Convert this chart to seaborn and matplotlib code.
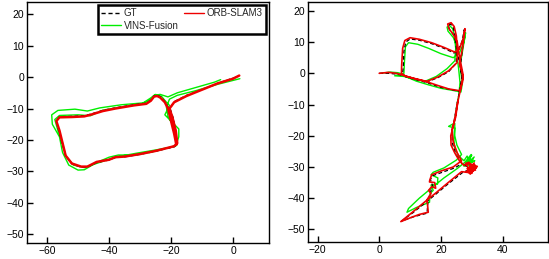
import pandas as pd
import seaborn as sns
import matplotlib.pyplot as plt

# ---- left sequence: trajectories (x, y in metres) ----
gt_l_x = [1, 0, -5, -10, -15, -19, -20.3, -19.3, -18.5, -18, -19, -25, -30, -35, -38, -40, -44, -47, -49, -52,
          -54, -55.2, -56.2, -57, -56, -52, -48, -46, -42, -38, -32, -28, -26.5, -25.5, -24.5, -23.3, -21.8, -20.8]
gt_l_y = [0, -0.3, -2, -4, -5.8, -7.8, -10, -13, -17, -21.3, -22.2, -23.6, -24.6, -25.4, -25.6, -26.4, -27.2, -28.6,
          -28.7, -27.6, -25, -21, -17, -14, -12.6, -12.5, -12.3, -11.8, -10.6, -9.8, -8.8, -8.3, -7.3, -6, -5.8,
          -6.3, -8, -10]

orb_l_x = [2, 0, -5, -10, -15, -19, -20.5, -19.5, -18.5, -18, -19, -25, -30, -35, -38, -40, -44, -47, -49, -52,
           -54, -55, -56, -57, -56, -52, -48, -46, -42, -38, -32, -28, -26.5, -25.5, -24.5, -23.5, -22, -21, -20,
           -19, -18.3]
orb_l_y = [0.5, -0.5, -2, -4, -6, -8, -10, -13, -17, -21, -22, -23.5, -24.5, -25.3, -25.5, -26.3, -27, -28.5,
           -28.5, -27.5, -25, -21, -17, -14, -12.8, -12.7, -12.5, -12, -10.8, -10, -9, -8.5, -7.5, -6.2, -6, -6.5,
           -8, -10, -14, -18, -21.5]

vins_l_x = [2.2, -5, -12, -18, -20.5, -21.5, -21, -19.5, -18.5, -18, -20, -26, -32, -37, -40, -44, -48, -50, -53,
            -55, -56, -58.3, -58.5, -56.5, -51, -47, -43, -36, -29, -26.5, -25, -23, -21.5, -20.5, -22, -20,
            -17.5, -17.5, -18.5, -25, -31, -37, -41, -45, -48, -51.5, -54, -55, -56.5, -57.5, -56, -50, -46, -42,
            -36, -30, -27, -25.5, -23.5, -21, -18, -12, -6, -4]
vins_l_y = [-0.5, -2.3, -4.3, -5.8, -7, -9.5, -12.5, -15, -18, -21.5, -22.3, -23.8, -24.8, -24.8, -25.5, -27.2,
            -29.5, -29.6, -28, -24, -19, -15, -12, -10.6, -10.2, -10.8, -9.8, -8.8, -8.2, -6.6, -5.5, -6.2, -8,
            -9, -12, -14, -16.5, -19, -22, -23.2, -24.2, -25.3, -26.5, -27.8, -28.8, -28, -25, -21, -17, -13.5,
            -12.2, -12, -12.3, -10.5, -9.5, -8.7, -7.5, -5.8, -5.5, -6.3, -5, -3.3, -1.6, -0.8]

# ---- right sequence ----
gt_r_x = [0, 3, 6, 11, 15.5, 20, 26, 27, 26.3, 27, 27.6, 26.8, 25.5, 24.3, 21, 17, 13, 10, 8.6, 8, 7.8, 7.5, 12,
          15.4, 19, 22.5, 25, 25, 24.6, 24, 23.2, 22.5, 22.8, 24.2, 25, 25.5, 26.2, 26.8, 26, 25.2, 24.5, 23.8,
          23.6, 24.8, 26.5, 28.5, 30, 27, 22, 18.5, 15, 11, 7.3, 11, 15.5, 15.8, 16.5, 17.3, 16.6, 17.3, 21, 24.5,
          27]
gt_r_y = [0, 0, -0.3, -1.8, -3, -4.5, -5.8, -2, 2, 8, 14, 10, 7.5, 6.5, 8, 9.5, 10.6, 11, 10, 7, 2, -0.5, -1.9,
          -2.8, -1.4, 0.5, 3.3, 8, 12, 14.7, 15.8, 15.4, 14, 12.2, 9.5, 6, 2.5, -1, -6, -10, -14, -18, -22, -25.8,
          -28.5, -30, -30.5, -31.8, -35.7, -38.6, -41.4, -44.6, -47.3, -46, -44.8, -41, -38.5, -36, -34, -32.8,
          -31.5, -30.3, -28.8]

orb_r_x = [0, 3, 5.5, 7, 11, 15.4, 19, 22.5, 26.2, 27.2, 26.8, 26, 27, 27.8, 27.2, 26, 24.5, 21, 17, 13, 10, 8.3,
           7.6, 7.3, 7.2, 8.5, 12, 15.4, 19, 22.5, 25.3, 25.3, 25, 24.3, 23.3, 22.2, 22.6, 24, 25.3, 25.8, 26.5,
           27.2, 26.3, 25.5, 24.8, 24, 23.2, 23.3, 24.5, 26, 27.5, 29, 30.5, 29.5, 31.5, 29, 31, 28.5, 30, 28,
           31.8, 29.5, 30.8, 28.3, 31.2, 29.2, 30, 26.7,
           22, 18.5, 15, 11, 7, 10, 13, 15.9, 15.5, 16.8, 16, 17, 18.3, 18, 16.3, 16.4, 17, 20, 24, 26.7, 25.3,
           24, 23.6, 24.8, 25.5]
orb_r_y = [0, 0.3, 0, -0.4, -1.6, -2.7, -3.9, -5, -5.6, -2, 0.5, 3, 8, 14.3, 11, 7.8, 6.8, 8.3, 9.8, 10.9, 11.4,
           10.5, 8, 3, 0, -0.9, -1.8, -2.6, -1.2, 0.8, 3.5, 8, 12, 15, 16.2, 15.8, 14.3, 12.5, 10, 6.5, 3, -0.5,
           -5.5, -9, -13, -17, -20, -23, -25.5, -28, -29.5, -28.5, -31, -29, -30.2, -31.8, -29.3, -30.5, -32, -28.8,
           -29.8, -32.3, -28.7, -31.5, -31, -28.6, -31.9, -31.5,
           -35.3, -38.2, -41, -44.3, -47.5, -46.3, -45.2, -44.5, -40.5, -38.5, -37.5, -36.3, -36.8, -35, -34.8,
           -34.2, -32.5, -31.3, -30, -28, -25.5, -22, -18, -14, -9]

vins_r_x = [0.5, 3.5, 6, 7.5, 8.5, 12, 16, 20, 24, 26.5, 27, 26.5, 26.3, 27, 28, 27.5, 26, 24, 20, 16, 12.5, 9.5,
            8.5, 8.2, 8, 5, 8, 11, 15, 18.5, 22, 24.5, 24.8, 24.4, 23.8, 22.8, 22, 22.3, 24, 25, 25.3, 25.8, 26.2,
            25.8, 25.2, 24.8, 24.3, 22.5, 24.5, 24.2, 24.5, 25.8, 27.5, 28.5, 29.5, 30.5, 29, 31, 28, 30, 27.5,
            30.8, 28.8, 29.8, 27.8, 25.3, 21,
            17.5, 13, 9.5, 9, 12, 16.3, 16.5, 17.5, 16.8, 18.9, 19, 16.8, 17.5, 21, 25, 26.7, 25.2, 24.5, 24.5]
vins_r_y = [0, 0.4, 0.2, -0.2, -1, -2.5, -3.7, -4.8, -5.5, -6, -3, 0, 3, 7, 13, 10, 6.5, 5, 6.3, 8, 9.3, 9.8,
            8.5, 4, 0, -0.8, -1, -1.8, -2.5, -1, 1.5, 4, 8, 12, 14.3, 15.3, 14.8, 13.5, 11.5, 9, 5, 1, -3, -7, -10,
            -13, -16, -17, -17.5, -21, -24, -26.5, -28, -26.5, -29, -27.2, -28.8, -28, -29.5, -26.2, -29.8,
            -26.8, -29.6, -26, -28.5, -30.5, -33.5,
            -36.3, -40, -43.3, -44.5, -43, -41.3, -38.5, -37.5, -35.8, -35.5, -33.5, -32.5, -31.7, -30.3, -27.8,
            -26, -23, -20, -16]

yticks = [-50, -40, -30, -20, -10, 0, 10, 20]

sns.set_theme(style="white")
plt.rcParams['font.family'] = ['Liberation Sans', 'DejaVu Sans']

fig = plt.figure(figsize=(5.49, 2.59), dpi=100)
ax_l = fig.add_axes([0.049, 0.062, 0.441, 0.930])
ax_r = fig.add_axes([0.561, 0.066, 0.437, 0.927])


def draw(ax, gx, gy, ox, oy, vx, vy, lw_red):
    sns.lineplot(x=vx, y=vy, sort=False, estimator=None, color="#00ee00", lw=1.0, ax=ax, label="VINS-Fusion", zorder=2)
    sns.lineplot(x=gx, y=gy, sort=False, estimator=None, color="black", lw=0.9, ls=(0, (3, 2)), ax=ax, label="GT", zorder=3)
    sns.lineplot(x=ox, y=oy, sort=False, estimator=None, color="#ee0000", lw=lw_red, ax=ax, label="ORB-SLAM3", zorder=4)
    ax.set_yticks(yticks)
    ax.tick_params(direction="in", length=4, width=1, labelsize=7.5, colors="black",
                   bottom=True, left=True, top=False, right=False, pad=2)
    for s in ax.spines.values():
        s.set_color("black")
        s.set_linewidth(1.0)
    ax.set_xlabel("")
    ax.set_ylabel("")


draw(ax_l, gt_l_x, gt_l_y, orb_l_x, orb_l_y, vins_l_x, vins_l_y, 1.8)
ax_l.set_xlim(-66.5, 11.6)
ax_l.set_ylim(-52.8, 23.9)
ax_l.set_xticks([-60, -40, -20, 0])

draw(ax_r, gt_r_x, gt_r_y, orb_r_x, orb_r_y, vins_r_x, vins_r_y, 1.2)
ax_r.set_xlim(-23.1, 54.7)
ax_r.set_ylim(-54, 22.9)
ax_r.set_xticks([-20, 0, 20, 40])
ax_r.get_legend().remove()

# legend: GT / VINS-Fusion in the first column, ORB-SLAM3 in the second
h, lab = ax_l.get_legend_handles_labels()
order = [lab.index("GT"), lab.index("VINS-Fusion"), lab.index("ORB-SLAM3")]
leg = ax_l.legend([h[i] for i in order], [lab[i] for i in order], ncol=2, loc="upper right",
                  fontsize=7, frameon=True, fancybox=False, edgecolor="black", framealpha=1,
                  handlelength=2.0, handletextpad=0.3, columnspacing=0.6, labelspacing=0.25,
                  borderpad=0.35, borderaxespad=0.3)
leg.get_frame().set_linewidth(1.8)
for line in leg.get_lines():
    line.set_linewidth(1.0)

fig.savefig("out.png", dpi=100)
plt.close(fig)
